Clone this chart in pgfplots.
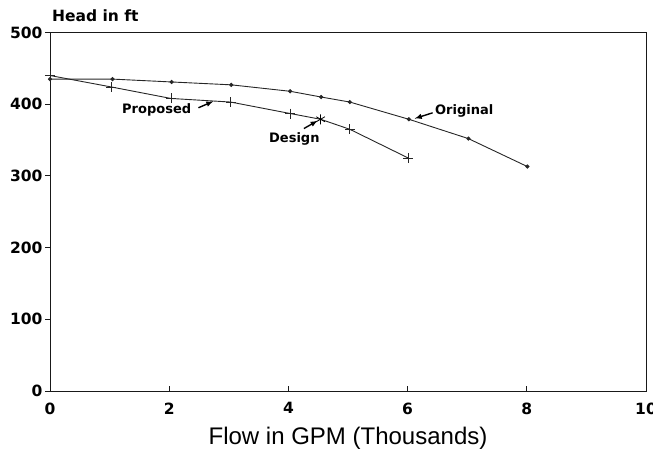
\documentclass[border=0pt]{standalone}
\usepackage{pgfplots}
\pgfplotsset{compat=1.18}
\usepackage{fontspec}
\setmainfont{Liberation Sans}
\newfontfamily\djv{DejaVu Sans}
\begin{document}
\begin{tikzpicture}[x=1pt,y=1pt]
\begin{axis}[name=ax,
  scale only axis, width=596pt, height=358.5pt,
  xmin=0, xmax=10, ymin=0, ymax=500,
  xtick={0,2,4,6,8,10}, ytick={0,100,200,300,400,500},
  xtick pos=bottom, ytick pos=left,
  xtick align=inside, ytick align=outside,
  major tick length=5pt,
  axis line style={black!90, line width=0.9pt},
  tick style={black!90, line width=0.9pt},
  /pgf/number format/assume math mode=true,
  ticklabel style={font=\djv\bfseries\fontsize{15.5}{15.5}\selectfont},
  xticklabel style={yshift=-8pt},
  yticklabel style={xshift=1pt},
  xlabel={Flow in GPM (Thousands)},
  xlabel style={font=\fontsize{24}{24}\selectfont, yshift=-6pt},
  clip=false,
]
\addplot[black!85, line width=0.9pt, mark=*, mark size=1.6pt, mark options={solid}]
 coordinates {(0,435) (1.05,435) (2.04,431) (3.04,427) (4.03,418) (4.55,410) (5.03,403) (6.02,379) (7.02,352) (8.01,313)};
\addplot[black!85, line width=0.9pt, mark=+, mark size=5pt, mark options={solid, line width=0.8pt}, mark indices={1,2,3,4,5,7,8}]
 coordinates {(0,440) (1.03,424) (2.03,408) (3.03,403) (4.03,387) (4.54,379) (5.03,365) (6.01,325)};
\addplot[black, only marks, mark=asterisk, mark size=5pt, mark options={line width=0.8pt}]
 coordinates {(4.54,379)};
\node[font=\djv\bfseries\fontsize{13}{13}\selectfont] at (axis cs:1.79,392) {Proposed};
\draw[-latex, line width=1.4pt] (axis cs:2.49,395) -- (axis cs:2.74,404);
\node[font=\djv\bfseries\fontsize{13}{13}\selectfont] at (axis cs:4.10,352) {Design};
\draw[-latex, line width=1.4pt] (axis cs:4.26,366) -- (axis cs:4.49,377);
\node[font=\djv\bfseries\fontsize{13}{13}\selectfont] at (axis cs:6.95,390) {Original};
\draw[-latex, line width=1.4pt] (axis cs:6.42,388) -- (axis cs:6.12,380);
\node[anchor=base west, font=\djv\bfseries\fontsize{15.5}{15.5}\selectfont, inner sep=0pt] at ([xshift=2pt,yshift=11pt]rel axis cs:0,1) {Head in ft};
\end{axis}
\pgfresetboundingbox
\useasboundingbox ([xshift=-50pt,yshift=-58pt]ax.south west) rectangle ([xshift=7pt,yshift=32.5pt]ax.north east);
\end{tikzpicture}
\end{document}
